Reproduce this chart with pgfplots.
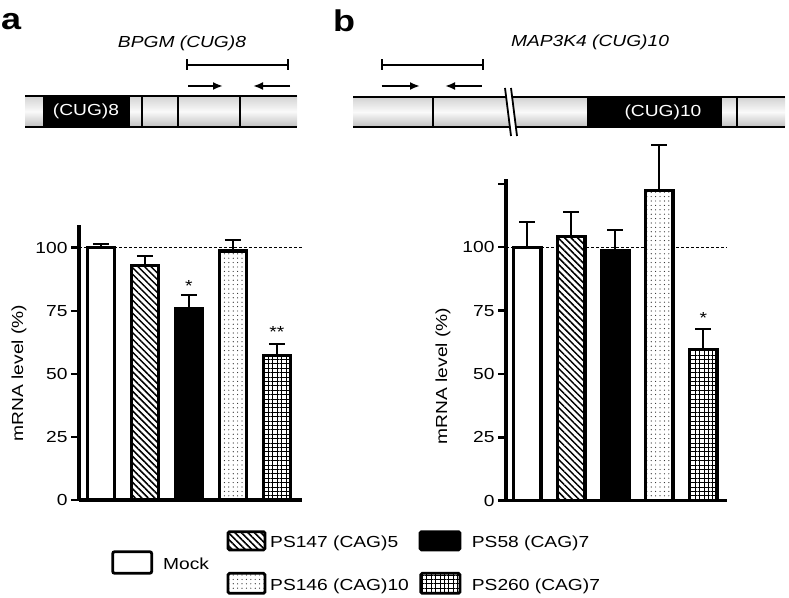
\documentclass[border=0pt]{standalone}
\usepackage{fontspec}
\setmainfont{Liberation Sans}[FakeStretch=1.2]
\usepackage{pgfplots}
\pgfplotsset{compat=1.18}
\usetikzlibrary{patterns.meta,arrows.meta}
\newcommand\fs{\fontsize{16}{19}\selectfont}
\newcommand\bigfs{\fontsize{30}{36}\selectfont\bfseries}
\tikzset{
 hatchL/.style={pattern={Lines[angle=-45,distance=4.6pt,line width=1.5pt]}},
 dotsP/.style={pattern={Dots[distance=4.4pt,radius=0.6pt]},pattern color=black!85},
 gridP/.style={pattern={Hatch[angle=0,distance=4.4pt,line width=0.9pt]}},
}
\pgfplotsset{
 barax/.style={
  scale only axis,
  axis x line*=bottom, axis y line*=left,
  axis line style={line width=3.4pt},
  xtick=\empty,
  tick style={line width=2.5pt, black},
  major tick length=8pt,
  tick align=outside,
  ymin=0,
  clip=false,
  /pgf/number format/assume math mode=true,
  tick label style={font=\fs},
 },
 refline/.style={forget plot, line width=0.8pt, dash pattern=on 3pt off 2pt},
 mybar/.style={ybar, bar shift=0pt, bar width=0.62, draw=black, line width=3.4pt,
   error bars/y dir=plus, error bars/y explicit,
   error bars/error bar style={line width=1.9pt, black},
   error bars/error mark options={rotate=90, mark size=8pt, line width=1.9pt, black}},
}
\begin{document}
\begin{tikzpicture}
\useasboundingbox (0,0) rectangle (789pt,597pt);
% ---------- panel a chart
\begin{axis}[barax, at={(79pt,97pt)}, anchor=south west, width=223pt, height=275pt,
  xmin=-0.5, xmax=4.57, ymax=109, ytick={0,25,50,75,100}]
\addplot[refline] coordinates {(-0.5,100) (4.57,100)};
\addplot[mybar, fill=white] coordinates {(0,100) +- (0,1.3)};
\addplot[mybar, preaction={fill=white}, hatchL] coordinates {(1,93) +- (0,3.7)};
\addplot[mybar, fill=black] coordinates {(2,76) +- (0,5.2)};
\addplot[mybar, preaction={fill=white}, dotsP] coordinates {(3,98.7) +- (0,4.3)};
\addplot[mybar, preaction={fill=white}, gridP] coordinates {(4,57.2) +- (0,4.7)};
\node[anchor=base, font=\fs, inner sep=0] at (axis cs:2,82.5) {*};
\node[anchor=base, font=\fs, inner sep=0] at (axis cs:4,64.6) {**};
\end{axis}
% ---------- panel b chart
\begin{axis}[barax, at={(506pt,96.3pt)}, anchor=south west, width=220.7pt, height=321.4pt,
  xmin=-0.48, xmax=4.53, ymax=126.8, ytick={0,25,50,75,100,125},
  yticklabels={0,25,50,75,100,{}}]
\addplot[refline] coordinates {(-0.48,100) (4.53,100)};
\addplot[mybar, fill=white] coordinates {(0,100) +- (0,10.1)};
\addplot[mybar, preaction={fill=white}, hatchL] coordinates {(1,104.2) +- (0,9.7)};
\addplot[mybar, fill=black] coordinates {(2,98.7) +- (0,8)};
\addplot[mybar, preaction={fill=white}, dotsP] coordinates {(3,122.3) +- (0,18)};
\addplot[mybar, preaction={fill=white}, gridP] coordinates {(4,59.6) +- (0,8.2)};
\node[anchor=base, font=\fs, inner sep=0] at (axis cs:4,70) {*};
\end{axis}
% ---------- shadings and legend (canvas coordinates, y up)
\begin{scope}[x=1pt,y=1pt]
\shade[top color=gray!35, bottom color=gray!50, middle color=gray!4] (25,470) rectangle (297,501);
\shade[top color=gray!35, bottom color=gray!50, middle color=gray!4] (353,470) rectangle (785,500);
% legend
\draw[line width=2.8pt, rounded corners=2pt, fill=white] (112.7,23.7) rectangle (151.7,45.3);
\node[anchor=base west, font=\fs, inner sep=0] at (163,27.5) {Mock};
\draw[line width=2.8pt, rounded corners=1.5pt, preaction={fill=white}, hatchL] (228,47) rectangle (265,65.3);
\node[anchor=base west, font=\fs, inner sep=0] at (270,50) {PS147 (CAG)5};
\draw[line width=2.8pt, rounded corners=1.5pt, fill=black] (420,47) rectangle (460,65.3);
\node[anchor=base west, font=\fs, inner sep=0] at (471.7,50) {PS58 (CAG)7};
\draw[line width=2.8pt, rounded corners=1.5pt, preaction={fill=white}, dotsP] (228,3.7) rectangle (265,23.7);
\node[anchor=base west, font=\fs, inner sep=0] at (270,6.5) {PS146 (CAG)10};
\draw[line width=2.8pt, rounded corners=1.5pt, preaction={fill=white}, gridP] (420.7,3.7) rectangle (460,23.7);
\node[anchor=base west, font=\fs, inner sep=0] at (471.7,6.5) {PS260 (CAG)7};
\end{scope}
% ---------- diagrams (pixel coordinates, y down)
\begin{scope}[x=1pt,y=-1pt,yshift=597pt]
% labels
\node[anchor=base west, font=\bigfs, inner sep=0] at (1,30) {a};
\node[anchor=base west, font=\bigfs, inner sep=0] at (333,32) {b};
\node[font=\fs\itshape] at (182,43) {BPGM (CUG)8};
\node[font=\fs\itshape] at (590,42) {MAP3K4 (CUG)10};
% y labels
\node[rotate=90, font=\fs] at (19,373) {mRNA level (\%)};
\node[rotate=90, font=\fs] at (443,376) {mRNA level (\%)};
% gene a
\fill[black] (42.7,96) rectangle (130,127);
\draw[line width=2pt] (141.5,96) -- (141.5,127) (178.3,96) -- (178.3,127) (240,96) -- (240,127);
\draw[line width=2.5pt] (25,96) -- (297,96) (25,127) -- (297,127);
\node[white, font=\fs] at (86,111.5) {(CUG)8};
\draw[line width=2pt] (186.7,65) -- (288.3,65) (186.7,59.5) -- (186.7,70.5) (288.3,59.5) -- (288.3,70.5);
\draw[line width=2pt, -{Latex[length=10pt,width=8pt]}] (188,86) -- (223,86);
\draw[line width=2pt, -{Latex[length=10pt,width=8pt]}] (290,86) -- (253,86);
% gene b
\fill[black] (586.7,97) rectangle (721.7,127);
\draw[line width=2pt] (433.3,97) -- (433.3,127) (736.7,97) -- (736.7,127);
\draw[line width=2.5pt] (353,97) -- (785,97) (353,127) -- (785,127);
\node[white, font=\fs] at (663,112) {(CUG)10};
\fill[white] (505.5,88) -- (510.5,88) -- (516.5,136) -- (511.5,136) -- cycle;
\draw[line width=1.8pt] (505,88) -- (511,136) (511,88) -- (517,136);
\draw[line width=2pt] (381.7,65) -- (482.7,65) (381.7,59.5) -- (381.7,70.5) (482.7,59.5) -- (482.7,70.5);
\draw[line width=2pt, -{Latex[length=10pt,width=8pt]}] (381.7,86) -- (420,86);
\draw[line width=2pt, -{Latex[length=10pt,width=8pt]}] (481.7,86) -- (445,86);
\end{scope}
\end{tikzpicture}
\end{document}
